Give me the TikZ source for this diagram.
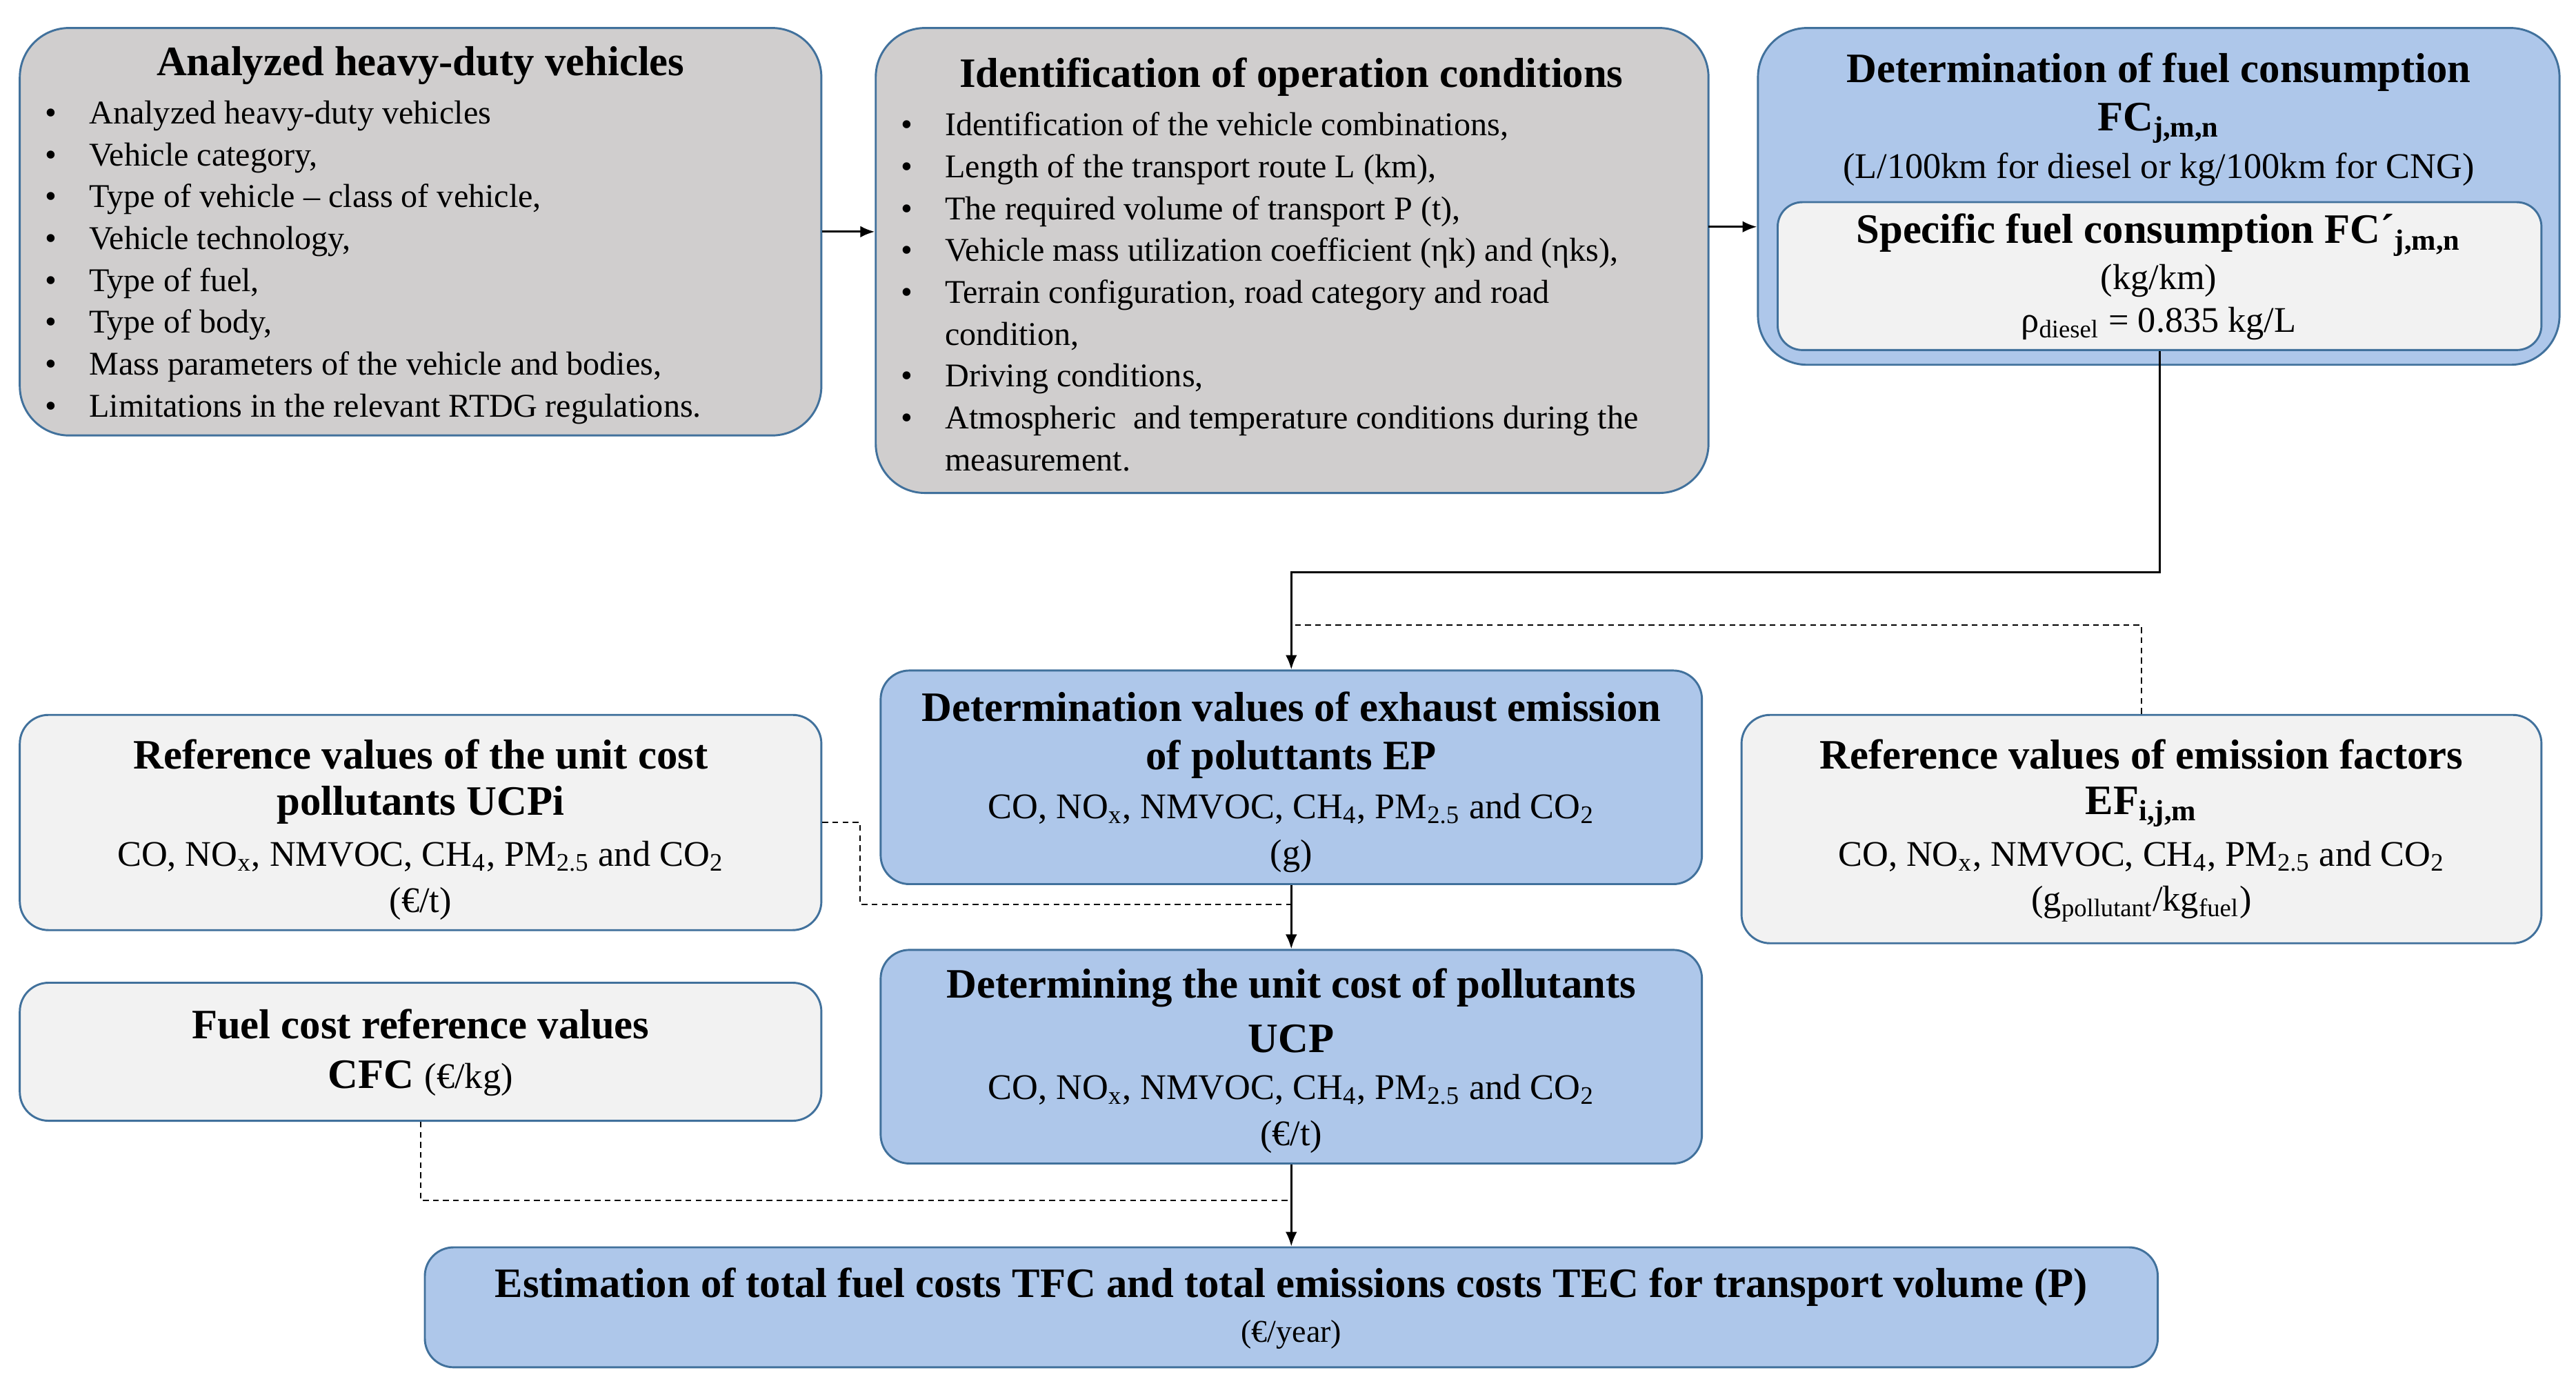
\documentclass[tikz,border=0pt]{standalone}
\usepackage{fontspec}
\setmainfont{Liberation Serif}
\usetikzlibrary{calc,arrows.meta}
\definecolor{bord}{HTML}{41719C}
\definecolor{grayf}{HTML}{D0CECE}
\definecolor{bluef}{HTML}{AEC7EA}
\definecolor{whitef}{HTML}{F2F2F2}
\tikzset{
 box/.style={draw=bord,line width=0.7pt,inner sep=0pt},
 gbox/.style={box,fill=grayf,rounded corners=0.6cm},
 bbox/.style={box,fill=bluef,rounded corners=0.35cm},
 wbox/.style={box,fill=whitef,rounded corners=0.35cm},
 txt/.style={inner sep=0pt,font=\fontsize{12.5}{14}\selectfont},
 ttl/.style={inner sep=0pt,font=\fontsize{14.5}{16}\selectfont\bfseries},
 lst/.style={inner sep=0pt,anchor=west,align=left,font=\fontsize{11.5}{14.5}\selectfont},
 arr/.style={line width=0.7pt,-{Latex[length=5pt,width=4pt]}},
 dsh/.style={line width=0.6pt,dashed,dash pattern=on 2pt off 1.5pt}
}
\newcommand{\bul}{\makebox[0.54cm][l]{•}}
\newcommand{\ind}{\hspace*{0.54cm}}
\begin{document}
\begin{tikzpicture}[x=0.02cm,y=-0.02cm]
\path[use as bounding box,fill=white] (0,0) rectangle (1568,843);
% boxes
\node[gbox,minimum width=9.76cm,minimum height=4.96cm] (b1) at (256,141) {};
\node[gbox,minimum width=10.14cm,minimum height=5.66cm] (b2) at (786.5,158.5) {};
\node[box,fill=bluef,rounded corners=0.6cm,minimum width=9.76cm,minimum height=4.1cm] (b3) at (1314,119.5) {};
\node[wbox,rounded corners=0.3cm,minimum width=9.3cm,minimum height=1.8cm] (b3in) at (1314.5,168) {};
\node[bbox,minimum width=10cm,minimum height=2.6cm] (ep) at (786,473) {};
\node[wbox,minimum width=9.76cm,minimum height=2.62cm] (ucpi) at (256,500.5) {};
\node[wbox,minimum width=9.74cm,minimum height=2.78cm] (ef) at (1303.5,504.5) {};
\node[bbox,minimum width=10cm,minimum height=2.6cm] (ucp) at (786,643) {};
\node[wbox,minimum width=9.76cm,minimum height=1.68cm] (cfc) at (256,640) {};
\node[bbox,minimum width=21.1cm,minimum height=1.46cm] (tot) at (786,795.5) {};
% box 1 text
\node[ttl] (t1) at (256,40) {Analyzed heavy-duty vehicles};
\node[lst,anchor=north west] (l1) at (27,61) {\bul Analyzed heavy-duty vehicles\\
\bul Vehicle category,\\
\bul Type of vehicle -- class of vehicle,\\
\bul Vehicle technology,\\
\bul Type of fuel,\\
\bul Type of body,\\
\bul Mass parameters of the vehicle and bodies,\\
\bul Limitations in the relevant RTDG regulations.};
% box 2 text
\node[ttl] (t2) at (786,47) {Identification of operation conditions};
\node[lst,anchor=north west] (l2) at (548,68) {\bul Identification of the vehicle combinations,\\
\bul Length of the transport route L (km),\\
\bul The required volume of transport P (t),\\
\bul Vehicle mass utilization coefficient (ηk) and (ηks),\\
\bul Terrain configuration, road category and road\\
\ind condition,\\
\bul Driving conditions,\\
\bul Atmospheric\ \ and temperature conditions during the\\
\ind measurement.};
% box 3 text
\node[ttl] (t3a) at (1314,44) {Determination of fuel consumption};
\node[ttl] (t3b) at (1314,75) {FC\textsubscript{j,m,n}};
\node[txt] (t3c) at (1314,103) {(L/100km for diesel or kg/100km for CNG)};
\node[ttl] (t3d) at (1314,143) {Specific fuel consumption FC´\textsubscript{j,m,n}};
\node[txt] (t3e) at (1314,171) {(kg/km)};
\node[txt] (t3f) at (1314,197) {ρ\textsubscript{diesel} = 0.835 kg/L};
% EP
\node[ttl] (e1) at (786,430) {Determination values of exhaust emission};
\node[ttl] (e2) at (786,462) {of poluttants EP};
\node[txt] (e3) at (786,492) {CO, NO\textsubscript{x}, NMVOC, CH\textsubscript{4}, PM\textsubscript{2.5} and CO\textsubscript{2}};
\node[txt] (e4) at (786,521) {(g)};
% UCPi
\node[ttl] (u1) at (256,459) {Reference values of the unit cost};
\node[ttl] (u2) at (256,490) {pollutants UCPi};
\node[txt] (u3) at (256,521) {CO, NO\textsubscript{x}, NMVOC, CH\textsubscript{4}, PM\textsubscript{2.5} and CO\textsubscript{2}};
\node[txt] (u4) at (256,550) {(€/t)};
% EF
\node[ttl] (f1) at (1303.5,459) {Reference values of emission factors};
\node[ttl] (f2) at (1303.5,491) {EF\textsubscript{i,j,m}};
\node[txt] (f3) at (1303.5,521) {CO, NO\textsubscript{x}, NMVOC, CH\textsubscript{4}, PM\textsubscript{2.5} and CO\textsubscript{2}};
\node[txt] (f4) at (1303.5,550) {(g\textsubscript{pollutant}/kg\textsubscript{fuel})};
% UCP
\node[ttl] (p1) at (786,601) {Determining the unit cost of pollutants};
\node[ttl] (p2) at (786,632) {UCP};
\node[txt] (p3) at (786,663) {CO, NO\textsubscript{x}, NMVOC, CH\textsubscript{4}, PM\textsubscript{2.5} and CO\textsubscript{2}};
\node[txt] (p4) at (786,692) {(€/t)};
% CFC
\node[ttl] (c1) at (256,623) {Fuel cost reference values};
\node[ttl] (c2) at (256,656) {CFC \textmd{\fontsize{12.5}{14}\selectfont(€/kg)}};
% total
\node[ttl] (o1) at (786,783) {Estimation of total fuel costs TFC and total emissions costs TEC for transport volume (P)};
\node[txt,font=\fontsize{11}{13}\selectfont] (o2) at (786,812) {(€/year)};
% connectors
\draw[arr] (b1.east) -- (b1.east -| b2.west);
\coordinate (a2) at (1040,138);
\draw[arr] (a2) -- (a2 -| b3.west);
\draw[arr] (b3in.south) |- ($(ep.north)+(0,-59)$) -- (ep.north);
\draw[dsh] (ef.north) |- ($(ep.north)+(0,-27)$);
\draw[dsh] (ucpi.east) -- ++(23,0) |- ($(ucp.north)+(0,-27)$);
\draw[arr] (ep.south) -- (ucp.north);
\draw[dsh] (cfc.south) |- ($(tot.north)+(0,-28)$);
\draw[arr] (ucp.south) -- (tot.north);
\end{tikzpicture}
\end{document}
